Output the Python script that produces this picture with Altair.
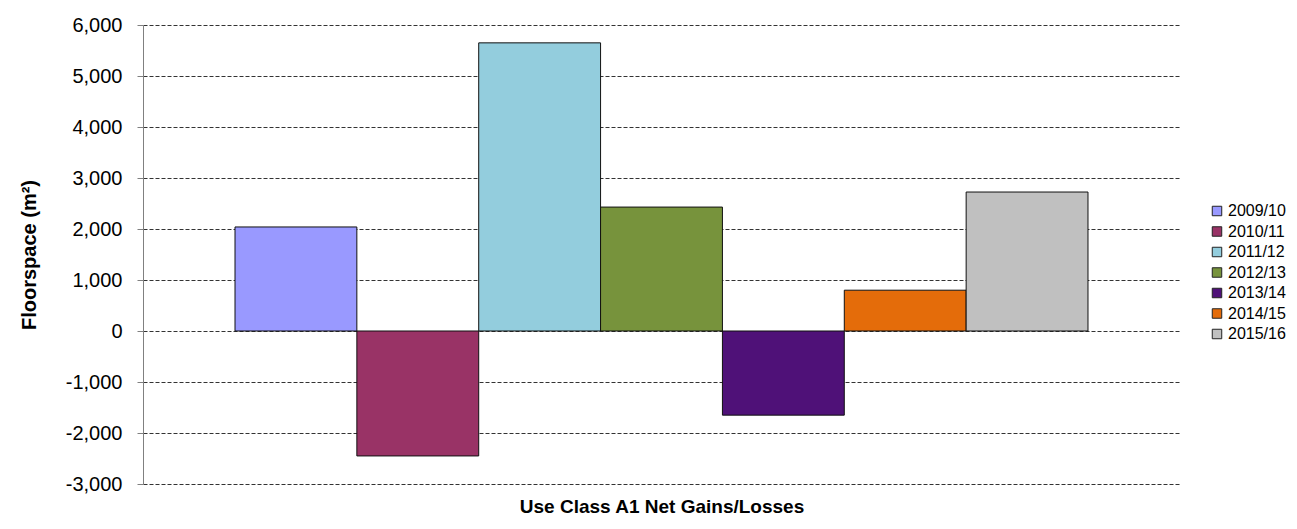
import altair as alt
import pandas as pd

years = ["2009/10", "2010/11", "2011/12", "2012/13", "2013/14", "2014/15", "2015/16"]
values = [2040, -2450, 5650, 2430, -1650, 800, 2725]
colors = ["#9999FF", "#993366", "#93CDDD", "#77933C", "#4F1178", "#E46C0A", "#C0C0C0"]
y_ticks = [-3000, -2000, -1000, 0, 1000, 2000, 3000, 4000, 5000, 6000]

df = pd.DataFrame({"year": years, "value": values})

FONT = "Liberation Sans"

chart = alt.Chart(df).mark_bar(stroke="#111111", strokeWidth=1).encode(
    x=alt.X("year:N", sort=years,
            scale=alt.Scale(paddingInner=0, paddingOuter=0.755),
            axis=alt.Axis(title="Use Class A1 Net Gains/Losses", labels=False, ticks=False,
                          domain=False, grid=False, titleFontSize=19, titleFont=FONT,
                          titleFontWeight="bold", titleColor="#000000", titlePadding=13)),
    y=alt.Y("value:Q",
            scale=alt.Scale(domain=[-3000, 6000], nice=False, zero=False),
            axis=alt.Axis(title="Floorspace (m²)", values=y_ticks,
                          labelExpr="replace(format(datum.value, ',.0f'), '\u2212', '-')",
                          labelFontSize=20, labelFont=FONT, labelColor="#000000",
                          labelPadding=15, tickSize=6, tickColor="#808080", domainColor="#808080",
                          gridColor="#333333", gridDash=[4, 2], gridWidth=1,
                          titleFontSize=20, titleFont=FONT, titleFontWeight="bold",
                          titleColor="#000000", titlePadding=26)),
    color=alt.Color("year:N", sort=years,
                    scale=alt.Scale(domain=years, range=colors),
                    legend=alt.Legend(title=None, orient="none", legendX=1066, legendY=178,
                                      symbolType="square", symbolSize=90, symbolStrokeColor="#222222",
                                      symbolStrokeWidth=1, labelFontSize=16, labelFont=FONT,
                                      labelColor="#000000", rowPadding=4.5, labelOffset=3)),
).properties(
    width=1037, height=459,
    autosize=alt.AutoSizeParams(type="none"),
    padding={"left": 135, "top": 17, "right": 109, "bottom": 33},
).configure_view(stroke=None)

chart.save("out.html", embed_options={"renderer": "svg", "actions": False})
